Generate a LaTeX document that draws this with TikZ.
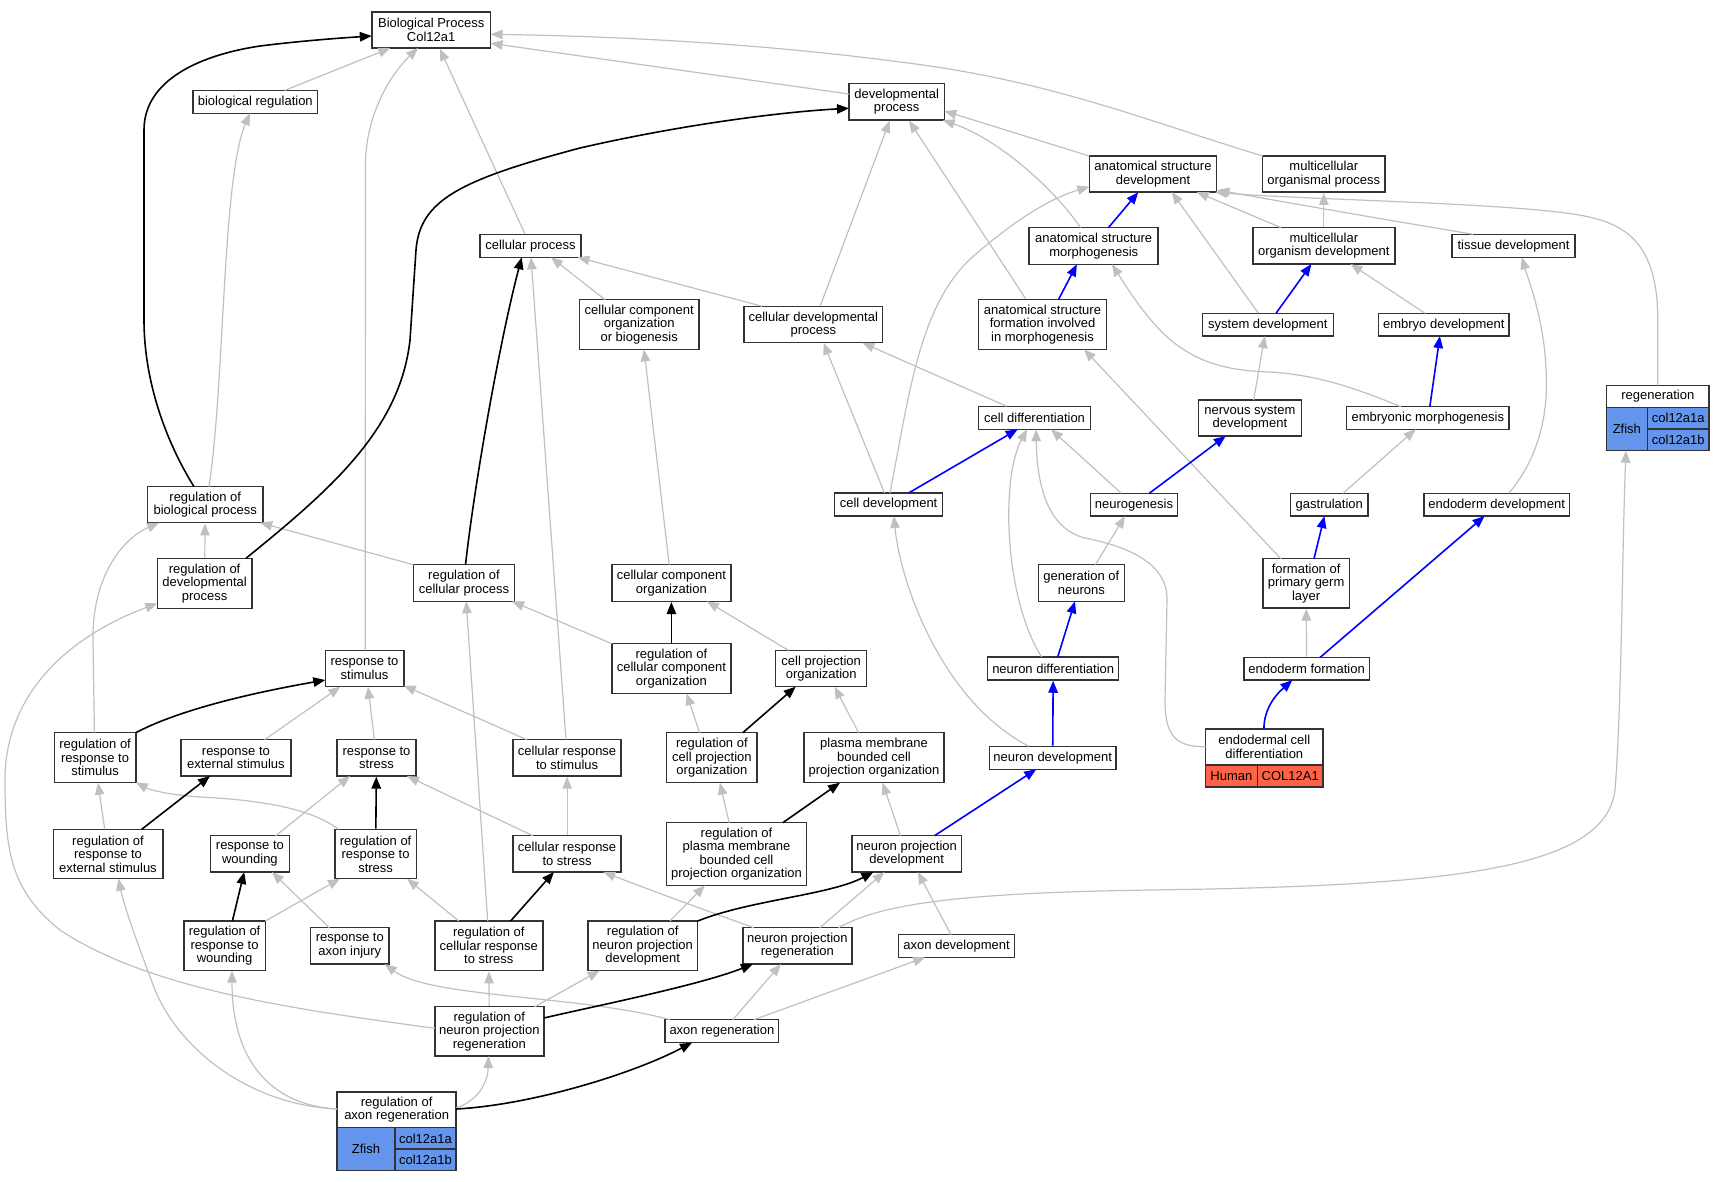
\documentclass[tikz,border=0pt]{standalone}
\usepackage{fontspec}
\setmainfont{Liberation Sans}
\usetikzlibrary{arrows.meta,calc}
\definecolor{edgegray}{HTML}{C0C0C0}
\definecolor{boxc}{HTML}{333333}
\definecolor{zf}{HTML}{6495ED}
\definecolor{hu}{HTML}{FF6347}
\newcommand{\nfont}{\fontsize{13pt}{13.5pt}\selectfont}
\tikzset{
  nbox/.style 2 args={draw=boxc, line width=1.5pt, fill=white, inner sep=0pt, align=center, font=\nfont, minimum width=#1pt, minimum height=#2pt},
  tcell/.style={draw=boxc, line width=1.5pt, inner sep=0pt, font=\nfont},
  ge/.style={draw=edgegray, line width=1.2pt, -{Triangle[length=12pt,width=9.5pt]}},
  bke/.style={draw=black, line width=1.6pt, -{Triangle[length=12pt,width=9.5pt]}},
  bue/.style={draw=blue, line width=1.6pt, -{Triangle[length=12pt,width=9.5pt]}}
}
\begin{document}
\begin{tikzpicture}[x=1pt,y=-1pt]
\useasboundingbox (0,0) rectangle (1724,1181);
% rank 1-2
\node[nbox={118.7}{36}] (bp) at (431.2,30) {Biological Process\\Col12a1};
\node[nbox={124.4}{23}] (breg) at (255.3,101.8) {biological regulation};
\node[nbox={95.4}{36.3}] (devp) at (896.7,101.8) {developmental\\process};
% rank 3
\node[nbox={127.4}{36.3}] (asd) at (1153,174) {anatomical structure\\development};
\node[nbox={122.3}{36.3}] (mop) at (1323.8,174) {multicellular\\organismal process};
% rank 4
\node[nbox={101.2}{22.6}] (cp) at (530.5,246) {cellular process};
\node[nbox={129}{36.6}] (asm) at (1093.7,246) {anatomical structure\\morphogenesis};
\node[nbox={141.9}{36.3}] (mod) at (1323.8,245.8) {multicellular\\organism development};
\node[nbox={123}{23}] (tisd) at (1513.5,245.8) {tissue development};
% rank 5
\node[nbox={119.2}{49.6}] (ccob) at (639.2,324.5) {cellular component\\organization\\or biogenesis};
\node[nbox={138.8}{36.4}] (cdp) at (813.3,324.5) {cellular developmental\\process};
\node[nbox={128}{49.6}] (asfm) at (1042.5,324.5) {anatomical structure\\formation involved\\in morphogenesis};
\node[nbox={131.1}{22.7}] (sysd) at (1267.8,324.7) {system development};
\node[nbox={130.8}{22.7}] (embd) at (1443.8,324.7) {embryo development};
% rank 6
\node[nbox={112.1}{23}] (celld) at (1034.5,417.8) {cell differentiation};
\node[nbox={102.8}{36}] (nsd) at (1249.9,418) {nervous system\\development};
\node[nbox={162.8}{22.6}] (embm) at (1427.8,418) {embryonic morphogenesis};
\node[nbox={102.8}{22}] (regen) at (1657.8,396.3) {regeneration};
\node[tcell, fill=zf, minimum width=40.9pt, minimum height=43.4pt] (regenz) at (1626.85,429) {Zfish};
\node[tcell, fill=zf, minimum width=61.9pt, minimum height=21.7pt] (regena) at (1678.25,418.15) {col12a1a};
\node[tcell, fill=zf, minimum width=61.9pt, minimum height=21.7pt] (regenb) at (1678.25,439.85) {col12a1b};
% rank 7
\node[nbox={115.1}{36}] (rbp) at (205.2,504.7) {regulation of\\biological process};
\node[nbox={108}{23}] (celldev) at (888.6,504.5) {cell development};
\node[nbox={86.7}{22.7}] (neurog) at (1134,504.7) {neurogenesis};
\node[nbox={77.5}{22.7}] (gast) at (1329.3,504.7) {gastrulation};
\node[nbox={145.7}{22.7}] (endd) at (1496.6,504.7) {endoderm development};
% rank 8
\node[nbox={94.7}{50}] (rdp) at (204.6,583.3) {regulation of\\developmental\\process};
\node[nbox={101.4}{36.6}] (rcp) at (464,583) {regulation of\\cellular process};
\node[nbox={119.2}{36.6}] (cco) at (671.4,583) {cellular component\\organization};
\node[nbox={85.9}{36.6}] (gen) at (1081.3,583) {generation of\\neurons};
\node[nbox={86.6}{49.3}] (fpgl) at (1306.1,583.3) {formation of\\primary germ\\layer};
% rank 9
\node[nbox={78.5}{36.4}] (rs) at (364.5,668.5) {response to\\stimulus};
\node[nbox={119.2}{49.6}] (rcco) at (671.4,668.5) {regulation of\\cellular component\\organization};
\node[nbox={91}{36.4}] (cpo) at (821.2,668.5) {cell projection\\organization};
\node[nbox={131}{23}] (nd) at (1053.2,668.5) {neuron differentiation};
\node[nbox={125.5}{22.7}] (ef) at (1306.6,668.7) {endoderm formation};
% rank 10
\node[nbox={81.4}{50}] (rrs) at (95.1,757.7) {regulation of\\response to\\stimulus};
\node[nbox={109.8}{36.3}] (res) at (235.9,757.8) {response to\\external stimulus};
\node[nbox={78.9}{36.3}] (rstress) at (376.5,757.8) {response to\\stress};
\node[nbox={107.8}{36.3}] (crs) at (567.1,757.8) {cellular response\\to stimulus};
\node[nbox={90.6}{50}] (rcpo) at (711.9,757.7) {regulation of\\cell projection\\organization};
\node[nbox={140.3}{50}] (pmb) at (874,757.7) {plasma membrane\\bounded cell\\projection organization};
\node[nbox={126.9}{23}] (ndev) at (1052.7,757.8) {neuron development};
\node[nbox={117.6}{36}] (ecd) at (1264.3,747) {endodermal cell\\differentiation};
\node[tcell, fill=hu, minimum width=51.8pt, minimum height=22pt] (ecdh) at (1231.4,776) {Human};
\node[tcell, fill=hu, minimum width=65.8pt, minimum height=22pt] (ecdc) at (1290.2,776) {COL12A1};
% rank 11
\node[nbox={109.5}{49.4}] (rres) at (108,854) {regulation of\\response to\\external stimulus};
\node[nbox={78.8}{36.3}] (rw) at (249.9,853.8) {response to\\wounding};
\node[nbox={81.4}{49.4}] (rrstress) at (375.6,854) {regulation of\\response to\\stress};
\node[nbox={107.8}{36.3}] (crstress) at (567.1,853.8) {cellular response\\to stress};
\node[nbox={139.8}{62.6}] (rpmb) at (736.5,854) {regulation of\\plasma membrane\\bounded cell\\projection organization};
\node[nbox={109.6}{36.3}] (npd) at (906.7,853.8) {neuron projection\\development};
% rank 12
\node[nbox={81.4}{49.7}] (rrw) at (224.6,945.8) {regulation of\\response to\\wounding};
\node[nbox={78.8}{36.3}] (rai) at (349.8,945.8) {response to\\axon injury};
\node[nbox={108}{49.7}] (rcrs) at (488.8,945.8) {regulation of\\cellular response\\to stress};
\node[nbox={109.9}{49.7}] (rnpd) at (642.7,945.8) {regulation of\\neuron projection\\development};
\node[nbox={109.1}{36.3}] (npr) at (797.4,945.8) {neuron projection\\regeneration};
\node[nbox={116.1}{22.6}] (axd) at (956.6,946) {axon development};
% rank 13
\node[nbox={109.1}{49.3}] (rnpr) at (489.3,1031.3) {regulation of\\neuron projection\\regeneration};
\node[nbox={113.6}{23}] (axr) at (721.9,1031.2) {axon regeneration};
% rank 14
\node[nbox={119.1}{35.7}] (rar) at (396.65,1109.85) {regulation of\\axon regeneration};
\node[tcell, fill=zf, minimum width=57.7pt, minimum height=43pt] (rarz) at (365.95,1149.2) {Zfish};
\node[tcell, fill=zf, minimum width=61.4pt, minimum height=21.5pt] (rara) at (425.5,1138.45) {col12a1a};
\node[tcell, fill=zf, minimum width=61.4pt, minimum height=21.5pt] (rarb) at (425.5,1159.95) {col12a1b};

% ---------------- gray edges
\draw[ge] ($(breg)+(29.7,-11.5)$) -- ($(bp)+(-40.8,18)$);
\draw[ge] ($(rs)+(0.7,-18.2)$) -- (365.5,165) .. controls (365.5,110) and (395,70) .. ($(bp)+(-13.2,18)$);
\draw[ge] (cp) -- (bp);
\draw[ge] ($(devp)+(-47.7,-7.8)$) -- ($(bp)+(59.4,13.3)$);
\draw[ge] ($(mop)+(-61,-18)$) .. controls (1150,122) and (1050,80) .. (900,62) .. controls (750,42) and (600,36) .. ($(bp)+(59.4,4.3)$);
\draw[ge] ($(asd)+(-63.7,-18)$) -- ($(devp)+(47.7,9.2)$);
\draw[ge] ($(asm)+(-13.1,-18.3)$) .. controls (1055,190) and (1000,140) .. ($(devp)+(46,18.2)$);
\draw[ge] (asfm) -- (devp);
\draw[ge] (cdp) -- (devp);
\draw[ge] ($(cdp)+(-51,-18.2)$) -- ($(cp)+(47,11.3)$);
\draw[ge] ($(ccob)+(-34.2,-24.8)$) -- ($(cp)+(20.5,11.3)$);
\draw[ge] ($(crs)+(-1.1,-18.2)$) -- ($(cp)+(0.5,11.3)$);
\draw[ge] ($(celldev)+(1.4,-11.5)$) .. controls (910,390) and (920,300) .. (977,253) .. controls (1010,225) and (1045,200) .. ($(asd)+(-63.7,12.7)$);
\draw[ge] ($(mod)+(-43,-18.2)$) -- ($(asd)+(43.7,18)$);
\draw[ge] ($(sysd)+(-9.4,-11.4)$) -- ($(asd)+(18.7,18)$);
\draw[ge] ($(embd)+(-18.8,-11.4)$) -- ($(mod)+(26.7,18.2)$);
\draw[ge] (mod) -- (mop);
\draw[ge] ($(tisd)+(-40.5,-11.5)$) .. controls (1400,222) and (1300,205) .. ($(asd)+(64.5,16)$);
\draw[ge] ($(regen)+(0,-11)$) -- (1657.8,320) .. controls (1657.8,255) and (1635,228) .. (1593,218) .. controls (1540,203) and (1300,200) .. ($(asd)+(62,18)$);
\draw[ge] ($(celld)+(-27.9,-11.5)$) -- ($(cdp)+(49,18.2)$);
\draw[ge] ($(celldev)+(-4.1,-11.5)$) -- ($(cdp)+(10.2,18.2)$);
\draw[ge] ($(embm)+(-27,-11.3)$) .. controls (1360,390) and (1320,375) .. (1270,372) .. controls (1190,370) and (1160,340) .. ($(asm)+(18.3,18.3)$);
\draw[ge] ($(fpgl)+(-25.3,-24.6)$) -- ($(asfm)+(41.5,24.8)$);
\draw[ge] ($(nsd)+(3.7,-18)$) -- ($(sysd)+(-3,11.4)$);
\draw[ge] ($(endd)+(12.2,-11.4)$) .. controls (1545,450) and (1548,400) .. (1546,370) .. controls (1544,320) and (1530,285) .. ($(tisd)+(8.3,11.5)$);
\draw[ge] ($(neurog)+(-12.7,-11.4)$) -- ($(celld)+(16.5,11.5)$);
\draw[ge] ($(gen)+(14.1,-18.3)$) -- ($(neurog)+(-9,11.4)$);
\draw[ge] ($(nd)+(-11.5,-11.5)$) .. controls (1005,600) and (1000,480) .. ($(celld)+(-7.5,11.5)$);
\draw[ge] ($(ecd)+(-58.8,-0.3)$) .. controls (1175,747) and (1165,735) .. (1165,700) -- (1167,600) .. controls (1168,560) and (1120,545) .. (1085,538) .. controls (1045,528) and (1037,480) .. ($(celld)+(1.5,11.5)$);
\draw[ge] ($(gast)+(13.7,-11.4)$) -- ($(embm)+(-12.2,11.3)$);
\draw[ge] (ef) -- (fpgl);
\draw[ge] ($(ndev)+(-23.9,-11.5)$) .. controls (940,700) and (900,580) .. ($(celldev)+(5.2,11.5)$);
\draw[ge] ($(cco)+(-2.2,-18.3)$) -- ($(ccob)+(4.8,24.8)$);
\draw[ge] ($(rcco)+(-59.6,-24.8)$) -- ($(rcp)+(48,18.3)$);
\draw[ge] ($(cpo)+(-32.9,-18.2)$) -- ($(cco)+(35.5,18.3)$);
\draw[ge] ($(rcp)+(-50.7,-18.3)$) -- ($(rbp)+(55,18)$);
\draw[ge] (rdp) -- (rbp);
\draw[ge] ($(rbp)+(3.8,-18)$) .. controls (225,380) and (222,180) .. ($(breg)+(-5.5,11.5)$);
\draw[ge] ($(rrs)+(-0.7,-25)$) -- (93,640) .. controls (92,580) and (120,540) .. ($(rbp)+(-46.1,18)$);
\draw[ge] ($(rnpr)+(-54.5,-3)$) .. controls (300,1010) and (150,990) .. (60,930) .. controls (10,890) and (5,850) .. (5,780) .. controls (5,700) and (60,640) .. ($(rdp)+(-47.3,20)$);
\draw[ge] ($(res)+(28.7,-18.1)$) -- ($(rs)+(-24.1,18.2)$);
\draw[ge] ($(rstress)+(-2.1,-18.1)$) -- ($(rs)+(3.5,18.2)$);
\draw[ge] ($(crs)+(-40.1,-18.1)$) -- ($(rs)+(39.2,17)$);
\draw[ge] ($(rres)+(-3.3,-24.7)$) -- ($(rrs)+(2.9,25)$);
\draw[ge] ($(rrstress)+(-37,-24.7)$) .. controls (310,808) and (260,800) .. (200,797) .. controls (170,795) and (150,790) .. ($(rrs)+(40.7,24.5)$);
\draw[ge] ($(rw)+(25.8,-18.1)$) -- ($(rstress)+(-26.5,18.2)$);
\draw[ge] ($(crstress)+(-34.3,-18.1)$) -- ($(rstress)+(30.5,18.2)$);
\draw[ge] (crstress) -- (crs);
\draw[ge] ($(rcpo)+(-12.4,-25)$) -- ($(rcco)+(15.2,24.8)$);
\draw[ge] ($(pmb)+(-15.4,-25)$) -- ($(cpo)+(13.4,18.2)$);
\draw[ge] ($(rpmb)+(-7.4,-31.3)$) -- ($(rcpo)+(8,25)$);
\draw[ge] ($(npd)+(-6.3,-18.1)$) -- ($(pmb)+(8.6,25)$);
\draw[ge] ($(rrw)+(40.7,-24.8)$) -- ($(rrstress)+(-35.6,24.7)$);
\draw[ge] ($(rai)+(-20.5,-18.1)$) -- ($(rw)+(22.1,18.2)$);
\draw[ge] ($(rcrs)+(-30,-24.8)$) -- ($(rrstress)+(31.4,24.7)$);
\draw[ge] ($(rcrs)+(-1.1,-24.8)$) -- ($(rcp)+(2.2,18.3)$);
\draw[ge] ($(rnpd)+(27.2,-24.8)$) -- ($(rpmb)+(-31.5,31.3)$);
\draw[ge] ($(npr)+(-43.5,-18.1)$) .. controls (710,912) and (650,890) .. ($(crstress)+(36.2,18.2)$);
\draw[ge] ($(npr)+(22.4,-18.1)$) -- ($(npd)+(-22.2,18.2)$);
\draw[ge] ($(npr)+(40.9,-18.1)$) .. controls (880,905) and (950,893) .. (1150,890) .. controls (1450,886) and (1605,870) .. (1615,790) .. controls (1622,700) and (1622,550) .. ($(regen)+(-31.8,54.4)$);
\draw[ge] ($(axd)+(-5.6,-11.3)$) -- ($(npd)+(11.1,18.2)$);
\draw[ge] (rnpr) -- (rcrs);
\draw[ge] ($(rnpr)+(45.4,-24.6)$) -- ($(rnpd)+(-43.1,24.9)$);
\draw[ge] ($(axr)+(-52,-11.5)$) .. controls (580,995) and (430,998) .. ($(rai)+(35,18.2)$);
\draw[ge] ($(axr)+(10.9,-11.5)$) -- ($(npr)+(-16.5,18.2)$);
\draw[ge] ($(axr)+(32,-11.5)$) -- ($(axd)+(-31.4,11.3)$);
\draw[ge] ($(rar)+(-59.55,-0.85)$) .. controls (250,1105) and (180,1050) .. (155,990) .. controls (140,950) and (125,910) .. ($(rres)+(10.4,24.7)$);
\draw[ge] ($(rar)+(-59.55,-0.85)$) .. controls (270,1105) and (232,1060) .. ($(rrw)+(7.4,24.9)$);
\draw[ge] ($(rar)+(59.55,-1.85)$) .. controls (480,1100) and (488,1080) .. ($(rnpr)+(-0.9,24.7)$);

% ---------------- black edges
\draw[bke] (rcco) -- (cco);
\draw[bke] ($(rcp)+(1.5,-18.3)$) .. controls (475,480) and (500,340) .. ($(cp)+(-8.8,11.3)$);
\draw[bke] ($(rdp)+(41.4,-25)$) .. controls (330,490) and (400,430) .. (410,340) -- (416,250) .. controls (420,200) and (460,180) .. (580,148) .. controls (680,125) and (780,112) .. ($(devp)+(-47.7,6.5)$);
\draw[bke] ($(rbp)+(-11.2,-18)$) .. controls (165,440) and (144,380) .. (144,320) -- (144,130) .. controls (144,80) and (200,55) .. (260,46) .. controls (300,41) and (340,38) .. ($(bp)+(-59.4,6)$);
\draw[bke] ($(rrs)+(40.7,-25)$) .. controls (175,712) and (240,695) .. ($(rs)+(-39.2,11.5)$);
\draw[bke] ($(rres)+(33.7,-24.7)$) -- ($(res)+(-25.9,18.2)$);
\draw[bke] (rrstress) -- (rstress);
\draw[bke] ($(rcpo)+(30.9,-25)$) -- ($(cpo)+(-25.5,18.2)$);
\draw[bke] ($(rpmb)+(46.3,-31.3)$) -- ($(pmb)+(-34,25)$);
\draw[bke] ($(rrw)+(7.8,-24.8)$) -- ($(rw)+(-5.7,18.2)$);
\draw[bke] ($(rcrs)+(21.8,-24.8)$) -- ($(crstress)+(-13.2,18.2)$);
\draw[bke] ($(rnpd)+(55,-24.8)$) .. controls (750,900) and (830,895) .. ($(npd)+(-33.3,18.2)$);
\draw[bke] ($(rnpr)+(54.5,-13.3)$) .. controls (600,1005) and (700,985) .. ($(npr)+(-44.4,18.2)$);
\draw[bke] ($(rar)+(59.55,-0.85)$) .. controls (530,1105) and (630,1075) .. ($(axr)+(-29.9,11.5)$);

% ---------------- blue edges
\draw[bue] ($(asm)+(14.7,-18.3)$) -- ($(asd)+(-14.7,18.2)$);
\draw[bue] ($(sysd)+(8.2,-11.4)$) -- ($(mod)+(-12.4,18.2)$);
\draw[bue] ($(asfm)+(15.9,-24.8)$) -- ($(asm)+(-16.8,18.3)$);
\draw[bue] ($(embm)+(2,-11.3)$) -- ($(embd)+(-3.9,11.4)$);
\draw[bue] ($(celldev)+(20,-11.5)$) -- ($(celld)+(-16.8,11.5)$);
\draw[bue] ($(neurog)+(15.3,-11.4)$) -- ($(nsd)+(-24.2,18)$);
\draw[bue] ($(fpgl)+(7.9,-24.6)$) -- ($(gast)+(-4.9,11.4)$);
\draw[bue] ($(ef)+(13.6,-11.4)$) -- ($(endd)+(-12.1,11.4)$);
\draw[bue] ($(ecd)+(-0.4,-18)$) .. controls (1264,712) and (1272,698) .. ($(ef)+(-14.2,11.4)$);
\draw[bue] ($(nd)+(4.5,-11.5)$) -- ($(gen)+(-6.3,18.3)$);
\draw[bue] (ndev) -- (nd);
\draw[bue] ($(npd)+(27.8,-18.1)$) -- ($(ndev)+(-16.5,11.5)$);
\end{tikzpicture}
\end{document}
